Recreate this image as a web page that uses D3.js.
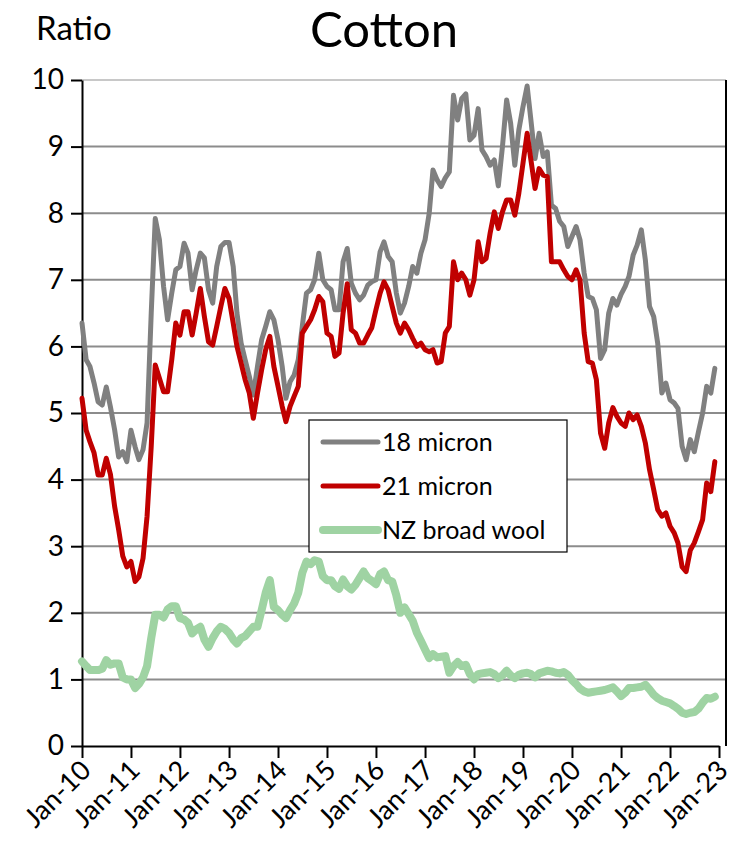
<!DOCTYPE html>
<html>
<head>
<meta charset="utf-8">
<script src="https://cdn.jsdelivr.net/npm/d3@7"></script>
<style>
  body { margin: 0; background: #fff; }
  svg { display: block; font-family: Lato, Carlito, "Liberation Sans", sans-serif; }
</style>
</head>
<body>
<svg width="736" height="853"></svg>
<script>
// monthly, Jan-10 .. Dec-22
const START = new Date(2010, 0, 1);

const micron18 = [
  6.35, 5.8, 5.7, 5.45, 5.17, 5.12, 5.39, 5.09, 4.75, 4.34, 4.42, 4.27,
  4.74, 4.49, 4.3, 4.45, 4.85, 6.5, 7.92, 7.6, 6.9, 6.4, 6.8, 7.15,
  7.2, 7.55, 7.4, 6.85, 7.15, 7.4, 7.33, 6.85, 6.65, 7.2, 7.5, 7.56,
  7.56, 7.2, 6.5, 6.05, 5.8, 5.55, 5.27, 5.7, 6.1, 6.3, 6.52, 6.4,
  6.1, 5.7, 5.22, 5.47, 5.57, 5.8, 6.3, 6.8, 6.85, 7.0, 7.4, 7.0,
  6.9, 6.85, 6.55, 6.55, 7.27, 7.47, 6.95, 6.8, 6.7, 6.77, 6.92, 6.97,
  7.0, 7.42, 7.57, 7.35, 7.27, 6.8, 6.5, 6.65, 6.9, 7.2, 7.1, 7.4,
  7.6, 8.0, 8.65, 8.5, 8.4, 8.53, 8.62, 9.77, 9.4, 9.72, 9.79, 9.1,
  9.17, 9.57, 8.95, 8.85, 8.72, 8.8, 8.41, 9.0, 9.7, 9.35, 8.72, 9.25,
  9.6, 9.91, 9.4, 8.82, 9.2, 8.85, 8.92, 8.12, 8.07, 7.88, 7.8, 7.5,
  7.65, 7.8, 7.6, 7.1, 6.75, 6.72, 6.55, 5.82, 5.95, 6.5, 6.72, 6.62,
  6.78, 6.9, 7.05, 7.37, 7.52, 7.75, 7.3, 6.6, 6.45, 6.05, 5.3, 5.45,
  5.2, 5.15, 5.07, 4.5, 4.3, 4.6, 4.42, 4.72, 5.0, 5.4, 5.3, 5.67
];

const micron21 = [
  5.22, 4.74, 4.57, 4.4, 4.07, 4.07, 4.32, 4.08, 3.6, 3.25, 2.85, 2.69,
  2.77, 2.47, 2.54, 2.82, 3.45, 4.5, 5.72, 5.52, 5.32, 5.32, 5.8, 6.35,
  6.17, 6.52, 6.52, 6.17, 6.5, 6.87, 6.45, 6.07, 6.02, 6.3, 6.6, 6.87,
  6.72, 6.35, 6.0, 5.75, 5.5, 5.3, 4.92, 5.3, 5.65, 5.95, 6.15, 5.7,
  5.4, 5.1, 4.87, 5.1, 5.25, 5.4, 6.2, 6.3, 6.4, 6.55, 6.75, 6.67,
  6.2, 6.15, 5.85, 5.9, 6.5, 6.94, 6.25, 6.2, 6.05, 6.05, 6.17, 6.28,
  6.55, 6.8, 6.97, 6.85, 6.6, 6.35, 6.2, 6.35, 6.25, 6.12, 6.0, 6.05,
  5.95, 5.92, 5.95, 5.75, 5.77, 6.2, 6.3, 7.27, 7.0, 7.1, 7.0, 6.77,
  7.0, 7.57, 7.27, 7.32, 7.7, 8.02, 7.77, 8.02, 8.2, 8.2, 7.97, 8.3,
  8.75, 9.2, 8.8, 8.37, 8.67, 8.57, 8.55, 7.27, 7.27, 7.27, 7.15, 7.05,
  7.0, 7.15, 7.0, 6.2, 5.77, 5.75, 5.5, 4.7, 4.47, 4.85, 5.08, 4.95,
  4.85, 4.8, 5.0, 4.9, 4.97, 4.8, 4.55, 4.15, 3.85, 3.55, 3.45, 3.5,
  3.3, 3.2, 3.05, 2.69, 2.62, 2.94, 3.05, 3.22, 3.4, 3.95, 3.82, 4.27
];

const nzBroad = [
  1.27, 1.2, 1.14, 1.14, 1.14, 1.16, 1.29, 1.22, 1.24, 1.24, 1.03, 1.0,
  1.0, 0.87, 0.93, 1.03, 1.2, 1.62, 1.97, 1.97, 1.93, 2.05, 2.1, 2.1,
  1.92, 1.9, 1.85, 1.69, 1.75, 1.79, 1.6, 1.49, 1.62, 1.72, 1.79, 1.76,
  1.7, 1.6, 1.54, 1.62, 1.65, 1.72, 1.79, 1.79, 2.04, 2.3, 2.49, 2.09,
  2.04, 1.97, 1.92, 2.04, 2.14, 2.3, 2.6, 2.77, 2.73, 2.79, 2.77, 2.55,
  2.49, 2.49, 2.4, 2.36, 2.5, 2.4, 2.35, 2.42, 2.52, 2.62, 2.52, 2.48,
  2.43, 2.58, 2.62, 2.49, 2.47, 2.26, 2.0, 2.08, 1.98, 1.88, 1.7, 1.58,
  1.45, 1.32, 1.38, 1.33, 1.34, 1.35, 1.1, 1.2, 1.26, 1.2, 1.22, 1.08,
  1.0, 1.08, 1.09, 1.1, 1.11, 1.08, 1.02, 1.06, 1.13, 1.06, 1.02, 1.07,
  1.09, 1.1, 1.08, 1.03, 1.09, 1.11, 1.13, 1.12, 1.1, 1.09, 1.11, 1.07,
  0.99, 0.93, 0.86, 0.82, 0.8, 0.81, 0.82, 0.83, 0.84, 0.86, 0.88, 0.82,
  0.75, 0.8, 0.87, 0.87, 0.88, 0.89, 0.92, 0.85, 0.77, 0.72, 0.68, 0.66,
  0.64, 0.6, 0.56, 0.5, 0.48, 0.5, 0.51, 0.56, 0.65, 0.72, 0.71, 0.74
];

const yTicks = [0, 1, 2, 3, 4, 5, 6, 7, 8, 9, 10];
const xTickYears = d3.range(2010, 2024);

const series = [
  { name: "18 micron", values: micron18, color: "#808080", width: 5 },
  { name: "21 micron", values: micron21, color: "#c00000", width: 5 },
  { name: "NZ broad wool", values: nzBroad, color: "#9fd3a3", width: 8 }
];

const months = micron18.map((d, i) => d3.timeMonth.offset(START, i));

const LEFT = 82, RIGHT = 726, TOP = 80, BOTTOM = 746;

const svg = d3.select("svg");

const x = d3.scaleTime()
  .domain([new Date(2010, 0, 1), new Date(2023, 0, 1)])
  .range([LEFT, 719]);
const y = d3.scaleLinear().domain([0, 10]).range([BOTTOM, TOP]);

// gridlines
svg.append("g")
  .selectAll("line")
  .data(yTicks.filter(d => d > 0))
  .enter()
  .append("line")
  .attr("x1", LEFT).attr("x2", RIGHT)
  .attr("y1", d => y(d)).attr("y2", d => y(d))
  .attr("stroke", d => d === 10 ? "#c8c8c8" : "#8c8c8c")
  .attr("stroke-width", 2);

// right border
svg.append("line")
  .attr("x1", RIGHT).attr("x2", RIGHT)
  .attr("y1", TOP).attr("y2", BOTTOM)
  .attr("stroke", "#000").attr("stroke-width", 2);

// y axis
const yAxis = svg.append("g")
  .attr("transform", `translate(${LEFT},0)`)
  .call(d3.axisLeft(y).tickValues(yTicks).tickSize(11).tickPadding(7).tickSizeOuter(0));
yAxis.select(".domain").attr("stroke", "#000").attr("stroke-width", 2);
yAxis.selectAll(".tick line").attr("stroke", "#000").attr("stroke-width", 2);
yAxis.selectAll(".tick text")
  .attr("font-size", 28).attr("fill", "#000")
  .style("font-family", "Lato, Carlito, sans-serif");

// x axis
const xAxis = svg.append("g")
  .attr("transform", `translate(0,${BOTTOM})`)
  .call(d3.axisBottom(x)
    .tickValues(xTickYears.map(yr => new Date(yr, 0, 1)))
    .tickFormat(d3.timeFormat("Jan-%y"))
    .tickSize(12).tickSizeOuter(0));
xAxis.select(".domain").attr("stroke", "#000").attr("stroke-width", 2);
xAxis.selectAll(".tick line").attr("stroke", "#000").attr("stroke-width", 2);
xAxis.selectAll(".tick text")
  .attr("font-size", 27).attr("fill", "#000")
  .attr("text-anchor", "end")
  .attr("dy", 0)
  .attr("transform", "translate(10,26) rotate(-45)")
  .attr("x", 0).attr("y", 0)
  .style("font-family", "Lato, Carlito, sans-serif");

// lines
const line = d3.line()
  .x((d, i) => x(months[i]))
  .y(d => y(d));

svg.append("g")
  .selectAll("path")
  .data(series)
  .enter()
  .append("path")
  .attr("d", s => line(s.values))
  .attr("fill", "none")
  .attr("stroke", s => s.color)
  .attr("stroke-width", s => s.width)
  .attr("stroke-linejoin", "round")
  .attr("stroke-linecap", "round");

// legend
const legend = svg.append("g").attr("transform", "translate(309,420)");
legend.append("rect")
  .attr("width", 258).attr("height", 132)
  .attr("fill", "#fff").attr("stroke", "#000").attr("stroke-width", 1.2);

const items = legend.selectAll(".item")
  .data(series)
  .enter()
  .append("g")
  .attr("class", "item")
  .attr("transform", (d, i) => `translate(0,${22 + i * 44})`);
items.append("line")
  .attr("x1", 14).attr("x2", 69)
  .attr("stroke", d => d.color)
  .attr("stroke-width", d => d.width)
  .attr("stroke-linecap", "round");
items.append("text")
  .attr("x", 73).attr("y", 9)
  .attr("font-size", 25)
  .text(d => d.name);

// titles
svg.append("text")
  .attr("x", 384).attr("y", 47)
  .attr("text-anchor", "middle")
  .attr("font-size", 49)
  .text("Cotton");
svg.append("text")
  .attr("x", 36).attr("y", 40)
  .attr("font-size", 33)
  .text("Ratio");
</script>
</body>
</html>
